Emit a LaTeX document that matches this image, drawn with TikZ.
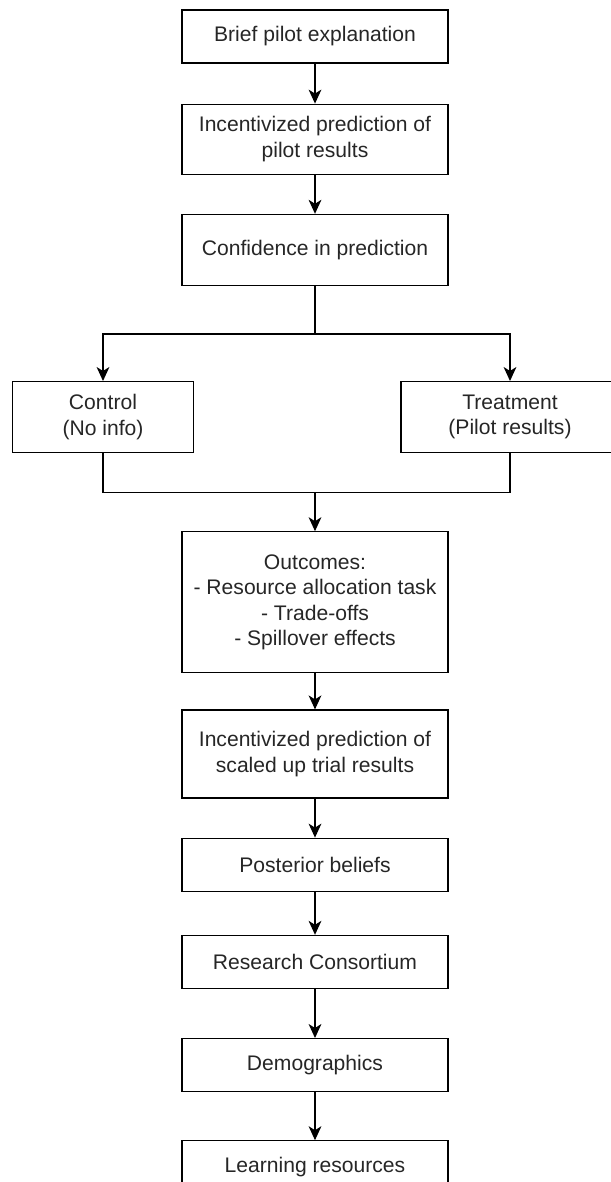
\documentclass[tikz,border=0pt]{standalone}
\usepackage{fontspec}
\setmainfont{Liberation Sans}
\usepackage{tikz}
\usetikzlibrary{arrows.meta,positioning}

\begin{document}
\begin{tikzpicture}[
  box/.style={draw,line width=.6pt,align=center,minimum width=133pt,minimum height=26.5pt,inner sep=2pt,
    text=black!85,font=\fontsize{10.55}{12.75}\selectfont},
  arr/.style={-{Stealth[length=7pt,width=6.4pt,inset=2pt]},line width=.6pt},
  line/.style={line width=.6pt},node distance=19.5pt]
\useasboundingbox (0,0) rectangle (305pt,-591pt);
\node[box] (brief) at (157.5pt,-18.25pt) {Brief pilot explanation};
\node[box,minimum height=35pt,below=20pt of brief] (predpilot) {Incentivized prediction of\\pilot results};
\node[box,minimum height=35.5pt,below=of predpilot] (confid) {Confidence in prediction};
\coordinate[below=24pt of confid] (split);
\node[box,minimum width=90.5pt,minimum height=35.5pt,below=23.5pt of split,xshift=-106pt] (control) {Control\\(No info)};
\node[box,minimum width=109pt,minimum height=35.5pt,below=23.5pt of split,xshift=97.5pt] (treat) {Treatment\\(Pilot results)};
\coordinate (merge) at ([yshift=-19.5pt]control.south -| confid.south);
\node[box,minimum height=70.5pt,below=of merge] (outc) {Outcomes:\\- Resource allocation task\\- Trade-offs\\- Spillover effects};
\node[box,minimum height=44pt,below=18pt of outc] (predtrial) {Incentivized prediction of\\scaled up trial results};
\node[box,below=of predtrial] (post) {Posterior beliefs};
\node[box,below=21.5pt of post] (consort) {Research Consortium};
\node[box,below=24.5pt of consort] (demog) {Demographics};
\node[box,below=24pt of demog] (learn) {Learning resources};
\draw[arr] (brief)--(predpilot);
\draw[arr] (predpilot)--(confid);
\draw[line] (confid)--(split);
\draw[arr] (split)-|(control);
\draw[arr] (split)-|(treat);
\draw[line] (control.south)|-(merge);
\draw[line] (treat.south)|-(merge);
\draw[arr] (merge)--(outc);
\draw[arr] (outc)--(predtrial);
\draw[arr] (predtrial)--(post);
\draw[arr] (post)--(consort);
\draw[arr] (consort)--(demog);
\draw[arr] (demog)--(learn);
\end{tikzpicture}
\end{document}
